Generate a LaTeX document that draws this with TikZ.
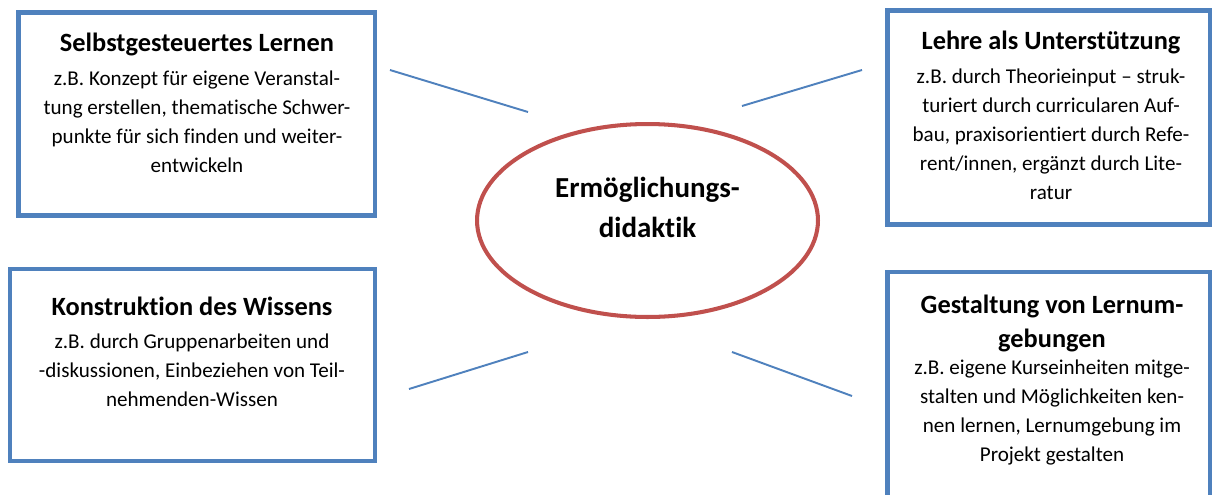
\documentclass[tikz,border=0pt]{standalone}
\usepackage{fontspec}
\setmainfont{Carlito}[Ligatures = NoCommon]
\usetikzlibrary{shapes.geometric}

\definecolor{kastenblau}{HTML}{4F81BD}
\definecolor{ovalrot}{HTML}{C0504D}

\newcommand{\titelfont}{\bfseries\fontsize{15}{19}\selectfont}

\tikzset{
	kasten/.style = {draw = kastenblau, line width = 2.8pt, fill = white, inner sep = 0pt},
	kastentext/.style = {anchor = north, align = center, inner sep = 0pt, font = \fontsize{12}{16.5}\selectfont},
	verbindung/.style = {draw = kastenblau, line width = 1.1pt},
}

\begin{document}
\begin{tikzpicture}[x = 0.02cm, y = -0.02cm]
				%	frame
				\path[use as bounding box, clip] (0, 0) rectangle (1213, 494);
				
				%	boxes
				\node[kasten, minimum width = 7.13cm, minimum height = 4.06cm] (selbst) at (196.75, 114) {};
				\node[kasten, minimum width = 6.45cm, minimum height = 4.28cm] (lehre) at (1048.75, 117.5) {};
				\node[kasten, minimum width = 7.3cm, minimum height = 3.84cm] (konstr) at (192.5, 365) {};
				\node[kasten, minimum width = 6.45cm, minimum height = 4.96cm] (gestalt) at (1048.75, 396) {};
				
				%	texts
				\node[kastentext] (selbsttext) at (197, 33) {{\titelfont Selbstgesteuertes Lernen}\\[2.6pt]
					z.B. Konzept für eigene Veranstal-\\tung erstellen, thematische Schwer-\\punkte für sich finden und weiter-\\entwickeln};
				\node[kastentext] (lehretext) at (1051, 31) {{\titelfont Lehre als Unterstützung}\\[2.6pt]
					z.B. durch Theorieinput – struk-\\turiert durch curricularen Auf-\\bau, praxisorientiert durch Refe-\\rent/innen, ergänzt durch Lite-\\ratur};
				\node[kastentext] (konstrtext) at (192, 297) {{\titelfont Konstruktion des Wissens}\\[2pt]
					z.B. durch Gruppenarbeiten und\\-diskussionen, Einbeziehen von Teil-\\nehmenden-Wissen};
				\node[kastentext] (gestalttext) at (1052, 295) {{\titelfont Gestaltung von Lernum-}\\[2.5pt]{\titelfont gebungen}\\[-1pt]
					z.B. eigene Kurseinheiten mitge-\\stalten und Möglichkeiten ken-\\nen lernen, Lernumgebung im\\Projekt gestalten};
				
				%	centre
				\node[ellipse, draw = ovalrot, line width = 2.3pt, minimum width = 6.82cm, minimum height = 3.86cm] (mitte) at (647.5, 220.5) {};
				\node[anchor = north, align = center, inner sep = 0pt, font = \bfseries\fontsize{16.5}{22.8}\selectfont] (mittetext) at (647.5, 177) {Ermöglichungs-\\didaktik};
				
				%	connectors
				\coordinate (s1) at (390, 70);
				\coordinate (m1) at (528, 112);
				\coordinate (s2) at (862, 70);
				\coordinate (m2) at (742, 106);
				\coordinate (s3) at (409, 389);
				\coordinate (m3) at (528, 352);
				\coordinate (s4) at (852, 396);
				\coordinate (m4) at (732, 352);
				\foreach \i in {1, ..., 4}
					\draw[verbindung] (s\i) -- (m\i);
				\end{tikzpicture}
\end{document}
